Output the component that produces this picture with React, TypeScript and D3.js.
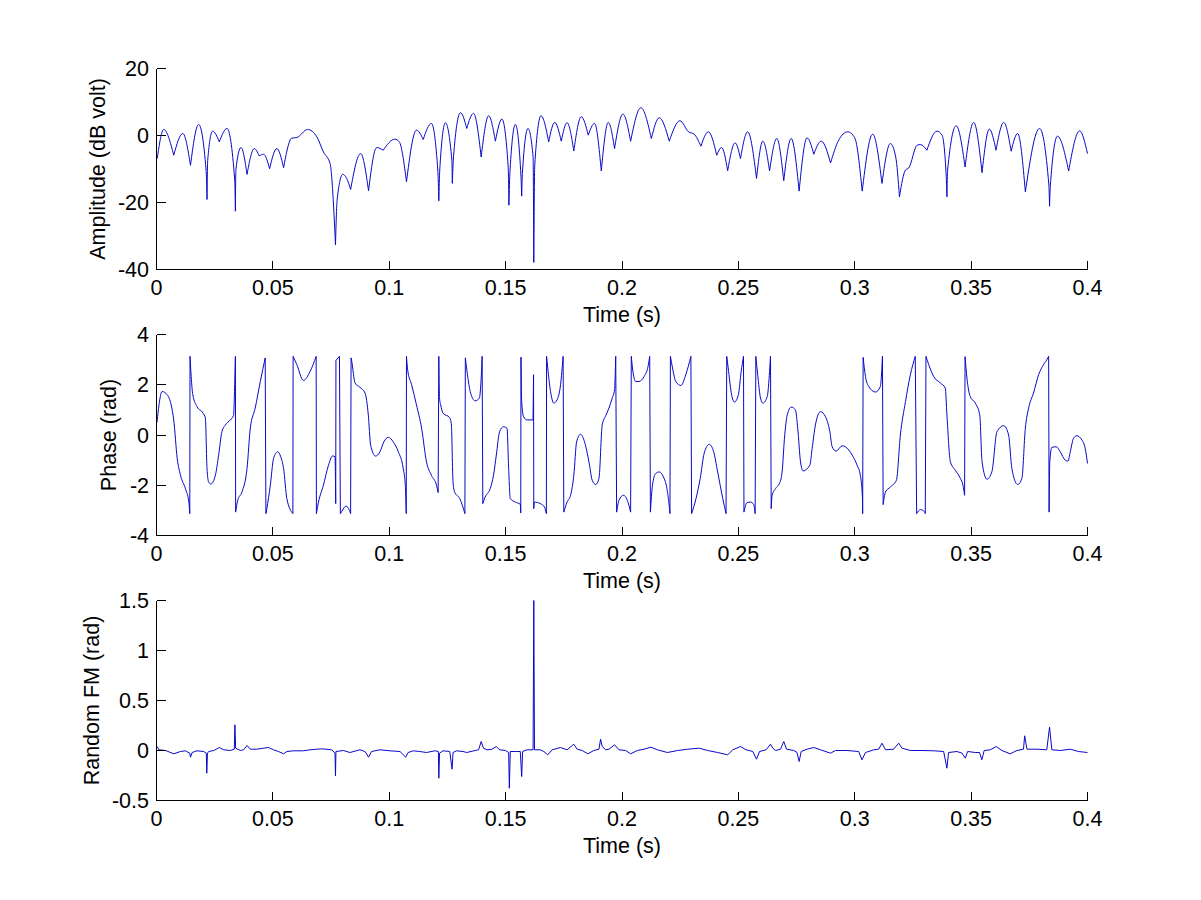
import React from "react";
import * as d3 from "d3";

type Pt = [number, number];

// ---------- ticks ----------
const timeTicks = [0, 0.05, 0.1, 0.15, 0.2, 0.25, 0.3, 0.35, 0.4];
const timeTickLabels = ["0", "0.05", "0.1", "0.15", "0.2", "0.25", "0.3", "0.35", "0.4"];
const ampTicks = [20, 0, -20, -40];
const ampTickLabels = ["20", "0", "-20", "-40"];
const phaseTicks = [4, 2, 0, -2, -4];
const phaseTickLabels = ["4", "2", "0", "-2", "-4"];
const fmTicks = [1.5, 1, 0.5, 0, -0.5];
const fmTickLabels = ["1.5", "1", "0.5", "0", "-0.5"];

// ---------- series (time s, value) ----------
const amplitudeDb: Pt[] = [
  [0.0003, -6.9], [0.0031, 1.8], [0.0074, -5.9], [0.0113, 0.6], [0.0146, -8.9], [0.0181, 3.3],
  [0.0213, -10.3], [0.0217, -19.1], [0.022, -7.4], [0.0241, 1.3], [0.027, -1.9], [0.0303, 2.1],
  [0.0336, -13.3], [0.0339, -22.6], [0.0341, -10.3], [0.0363, -3.6], [0.0389, -11.6], [0.042, -3.9],
  [0.0441, -6.1], [0.046, -5.6], [0.0486, -9.9], [0.0517, -3.9], [0.0546, -9.6], [0.0581, -0.8],
  [0.0603, -0.6], [0.0649, 1.8], [0.0689, -0.4], [0.0717, -4.9], [0.0746, -8.4], [0.0761, -21.3],
  [0.0769, -32.7], [0.0776, -19.3], [0.08, -11.6], [0.0817, -12.8], [0.0834, -16.1], [0.0877, -5.4],
  [0.0911, -16.5], [0.0946, -3.6], [0.0974, -4.4], [0.1024, -1.1], [0.1043, -1.9], [0.1074, -13.8],
  [0.1117, 1.6], [0.1146, -1.2], [0.1181, 3.6], [0.1209, -10.8], [0.1213, -19.5], [0.1217, -10.3],
  [0.1241, 3.8], [0.1269, -7.4], [0.1271, -14.3], [0.1276, -6.4], [0.1306, 6.8], [0.1333, 2.1],
  [0.1362, 6.6], [0.1395, -6.4], [0.1427, 5.9], [0.1456, -1.7], [0.1484, 4.9], [0.1511, -9.4],
  [0.1514, -20.8], [0.1519, -10.3], [0.1542, 3.3], [0.1566, -12.3], [0.1569, -18.1], [0.1572, -11.3],
  [0.1596, 2.1], [0.1618, -6.4], [0.1621, -37.9], [0.1625, -9], [0.1652, 5.9], [0.1685, -1.9],
  [0.1711, 3.9], [0.1739, -1.7], [0.1764, 3.8], [0.1793, -4.6], [0.1825, 5.6], [0.1855, 0.1],
  [0.1882, 3.6], [0.1911, -10.6], [0.1941, 3.9], [0.1968, -3.9], [0.2004, 6.4], [0.2037, -1.7],
  [0.2081, 8.3], [0.2126, -0.9], [0.216, 5.3], [0.2203, -1.7], [0.2249, 4.4], [0.2286, 1.1],
  [0.231, 0.4], [0.2339, -3.2], [0.2371, 1.1], [0.2407, -5.9], [0.2428, -3.6], [0.2454, -10.5],
  [0.2486, -2.2], [0.2509, -6.9], [0.254, 1.1], [0.2578, -12.8], [0.2605, -1.7], [0.2634, -10.6],
  [0.2665, -0.9], [0.2695, -13.5], [0.2727, -0.9], [0.2761, -16.6], [0.2795, -0.7], [0.2824, -5.6],
  [0.2856, -1.7], [0.2896, -8.2], [0.2931, -1.4], [0.297, 1.1], [0.3, -0.7], [0.3032, -16.6],
  [0.3077, 0.4], [0.3117, -14.3], [0.3153, -2.4], [0.3176, -6.4], [0.3192, -18.3], [0.3218, -10.3],
  [0.3232, -9.7], [0.3268, -2.9], [0.3282, -2.7], [0.331, -4.4], [0.3353, 1.3], [0.3375, 0.1],
  [0.3393, -12.3], [0.3396, -18.3], [0.3399, -10.3], [0.3436, 2.9], [0.3474, -9.4], [0.3511, 3.9],
  [0.3547, -11.1], [0.3578, 1.9], [0.3607, -4.4], [0.364, 3.9], [0.3672, -4.7], [0.37, 0.6],
  [0.3733, -16.8], [0.3794, 2.1], [0.3834, -14.8], [0.3837, -21.1], [0.384, -15.3], [0.3871, -0.2],
  [0.3919, -10.6], [0.3966, 1.4], [0.4, -5.4],
];

const phaseRad: Pt[] = [
  [0.0002, 0.5], [0.0024, 1.73], [0.0046, 1.6], [0.0063, 1.2], [0.0074, 0.6], [0.0089, -0.93],
  [0.0103, -1.6], [0.0124, -2.13], [0.0139, -2.67], [0.0143, -3.13], [0.0144, 3.13], [0.0149, 2.33],
  [0.0156, 1.6], [0.0174, 1.13], [0.02, 0.87], [0.021, 0.67], [0.0217, -1.33], [0.0224, -1.87],
  [0.0234, -1.95], [0.0253, -1.6], [0.0267, -0.8], [0.0281, 0.13], [0.0296, 0.4], [0.0317, 0.6],
  [0.0331, 0.77], [0.0337, 2.4], [0.0339, 3.13], [0.034, -3.07], [0.0349, -2.6], [0.0367, -2.27],
  [0.0389, -1.33], [0.0403, 0.27], [0.0424, 1.07], [0.0446, 2.13], [0.0467, 3.07], [0.047, -3.13],
  [0.0474, -2.93], [0.0489, -2.0], [0.0503, -0.93], [0.052, -0.67], [0.0534, -0.87], [0.0546, -1.33],
  [0.056, -2.53], [0.0586, -3.13], [0.0587, 3.13], [0.0603, 2.8], [0.0631, 2.17], [0.066, 2.53],
  [0.0686, 3.13], [0.0687, -3.13], [0.0696, -2.67], [0.0717, -2.0], [0.0739, -1.2], [0.0757, -0.83],
  [0.0767, -0.87], [0.077, -2.73], [0.0771, 2.97], [0.0786, 3.13], [0.079, -3.13], [0.0796, -3.04],
  [0.0814, -2.83], [0.0829, -3.0], [0.0834, -3.13], [0.0836, 3.07], [0.0839, 2.93], [0.0853, 2.07],
  [0.0874, 1.9], [0.0896, 1.67], [0.091, 0.8], [0.092, -0.4], [0.0941, -0.84], [0.096, -0.67],
  [0.0977, -0.27], [0.0996, -0.09], [0.1017, -0.27], [0.1039, -0.67], [0.106, -1.33], [0.1069, -2.0],
  [0.1073, -3.13], [0.1074, 3.13], [0.1079, 2.6], [0.1096, 2.0], [0.1117, 1.2], [0.1139, 0.27],
  [0.116, -1.07], [0.1181, -1.6], [0.1203, -2.0], [0.121, -2.29], [0.1213, 3.13], [0.1216, 1.47],
  [0.1221, 1.2], [0.1231, 0.87], [0.126, 0.69], [0.1267, 0.4], [0.1274, -1.87], [0.1281, -2.27],
  [0.1303, -2.53], [0.1325, -3.13], [0.1327, 3.07], [0.1336, 2.4], [0.1348, 1.73], [0.1369, 1.36],
  [0.1387, 1.47], [0.1395, 2.27], [0.1399, 3.13], [0.1402, -2.73], [0.1412, -2.47], [0.1434, -2.13],
  [0.1448, -1.6], [0.146, -0.8], [0.1474, 0.13], [0.1491, 0.33], [0.1506, 0.27], [0.1513, -1.33],
  [0.152, -2.53], [0.1542, -2.67], [0.1563, -2.76], [0.1565, -3.1], [0.1566, 3.1], [0.1569, 1.33],
  [0.1577, 0.73], [0.1592, 0.6], [0.1617, 0.6], [0.162, 2.4], [0.1621, -2.93], [0.1624, -2.67],
  [0.1649, -2.73], [0.1667, -2.87], [0.1675, -3.13], [0.1676, 3.13], [0.1681, 2.67], [0.1693, 1.73],
  [0.1707, 1.27], [0.1721, 1.4], [0.1736, 2.0], [0.1747, 3.13], [0.175, -3.07], [0.1764, -2.67],
  [0.1779, -2.4], [0.1793, -1.6], [0.1805, -0.27], [0.1822, 0.03], [0.1839, -0.27], [0.1858, -1.07],
  [0.1872, -1.8], [0.1887, -1.97], [0.1901, -1.73], [0.1915, 0.4], [0.193, 0.77], [0.1944, 1.07],
  [0.1958, 1.47], [0.1968, 1.8], [0.1973, 3.13], [0.1977, -3.07], [0.1987, -2.6], [0.2006, -2.4],
  [0.2023, -2.6], [0.2037, -3.07], [0.204, 3.13], [0.2045, 2.67], [0.2059, 2.13], [0.2073, 2.13],
  [0.2095, 2.33], [0.2112, 2.73], [0.2119, 3.13], [0.2122, -3.07], [0.2131, -2.0], [0.2145, -1.53],
  [0.216, -1.47], [0.2178, -1.67], [0.2193, -2.13], [0.2204, -2.93], [0.2206, -3.13], [0.2208, 3.13],
  [0.2217, 2.67], [0.2231, 2.13], [0.2253, 1.97], [0.2274, 2.4], [0.2296, 3.13], [0.2299, -3.13],
  [0.2318, -2.53], [0.2336, -1.73], [0.2353, -0.73], [0.2375, -0.37], [0.2394, -0.67], [0.2411, -1.47],
  [0.2433, -2.53], [0.2447, -3.13], [0.245, 3.13], [0.2458, 2.53], [0.2471, 1.6], [0.2483, 1.31],
  [0.25, 1.6], [0.2512, 2.53], [0.2522, 3.13], [0.2524, -3.07], [0.2537, -2.69], [0.2552, -2.67],
  [0.2566, -2.77], [0.2572, -3.13], [0.2575, 3.13], [0.2583, 2.4], [0.2595, 1.47], [0.2605, 1.27],
  [0.2624, 1.53], [0.2634, 2.53], [0.2638, 3.13], [0.2641, -2.93], [0.2645, -2.4], [0.266, -2.13],
  [0.2678, -1.89], [0.2688, -1.47], [0.2698, -0.13], [0.271, 0.8], [0.2727, 1.11], [0.2745, 1.0],
  [0.2755, 0.27], [0.2767, -1.07], [0.2778, -1.43], [0.2807, -1.2], [0.2817, -0.53], [0.2831, 0.4],
  [0.2853, 0.93], [0.2874, 0.73], [0.2893, 0.13], [0.2903, -0.47], [0.292, -0.64], [0.2946, -0.43],
  [0.296, -0.47], [0.2989, -0.8], [0.301, -1.2], [0.3024, -1.6], [0.3033, -2.47], [0.3034, -3.13],
  [0.3036, 3.09], [0.3046, 2.33], [0.306, 1.93], [0.3089, 1.71], [0.311, 1.93], [0.3119, 3.13],
  [0.3122, -2.77], [0.3132, -2.27], [0.3153, -2.07], [0.3179, -1.8], [0.3196, 0.0], [0.3218, 1.33],
  [0.3239, 2.4], [0.326, 3.13], [0.3266, -3.13], [0.3282, -2.97], [0.3299, -3.04], [0.3303, -3.13],
  [0.3306, 3.13], [0.3318, 2.8], [0.3339, 2.33], [0.3368, 2.07], [0.3389, 1.87], [0.3396, 0.8],
  [0.3411, -1.07], [0.3432, -1.4], [0.3454, -1.73], [0.3465, -2.0], [0.3472, -2.4], [0.3474, 3.12],
  [0.3482, 2.27], [0.3496, 1.53], [0.3518, 1.27], [0.3537, 0.8], [0.3547, -1.07], [0.3568, -1.76],
  [0.3589, -1.47], [0.3611, 0.13], [0.364, 0.37], [0.3661, 0.0], [0.3675, -1.33], [0.37, -1.97],
  [0.3718, -1.73], [0.3733, 0.27], [0.3747, 1.07], [0.3768, 1.67], [0.379, 2.4], [0.3811, 2.8],
  [0.383, 3.07], [0.3833, 3.13], [0.3835, -3.07], [0.3838, -1.07], [0.3847, -0.49], [0.3866, -0.47],
  [0.3883, -0.67], [0.3904, -1.0], [0.3916, -1.04], [0.3926, -0.67], [0.394, -0.13], [0.3954, -0.03],
  [0.3976, -0.2], [0.399, -0.53], [0.4, -1.13],
];

const randomFm: Pt[] = [
  [0.0003, 0.04], [0.001, 0.007], [0.0039, 0], [0.0074, -0.033], [0.0103, -0.01], [0.0124, -0.003],
  [0.0143, -0.027], [0.0146, -0.067], [0.0153, -0.02], [0.0174, -0.003], [0.0203, -0.01], [0.0214, -0.027],
  [0.0216, -0.227], [0.0219, -0.027], [0.0224, -0.01], [0.0246, 0], [0.027, 0.03], [0.0289, 0.007],
  [0.0317, 0], [0.0334, 0.013], [0.0337, 0.257], [0.034, 0.023], [0.036, 0], [0.0374, 0.007],
  [0.0389, 0.05], [0.0403, 0.013], [0.0431, 0.013], [0.046, 0.023], [0.0481, 0.03], [0.0503, 0.007],
  [0.0524, -0.01], [0.0546, -0.033], [0.056, -0.01], [0.0589, -0.003], [0.0631, -0.003], [0.066, 0.007],
  [0.071, 0.017], [0.0753, 0.007], [0.0767, -0.027], [0.0769, -0.253], [0.0771, -0.01], [0.0803, 0],
  [0.0831, -0.02], [0.0874, 0.007], [0.0896, -0.01], [0.0911, -0.067], [0.0924, -0.01], [0.096, 0.007],
  [0.1003, -0.003], [0.1046, -0.01], [0.1071, -0.067], [0.1081, -0.02], [0.1103, -0.003], [0.1131, -0.01],
  [0.116, -0.02], [0.1196, -0.003], [0.1211, -0.01], [0.1213, -0.277], [0.1216, -0.027], [0.1231, -0.003],
  [0.126, -0.01], [0.127, -0.187], [0.1274, -0.02], [0.1289, -0.003], [0.1317, -0.01], [0.1333, -0.02],
  [0.1369, 0], [0.1384, 0.007], [0.1395, 0.09], [0.1405, 0.023], [0.142, 0.007], [0.1441, 0.013],
  [0.146, 0.04], [0.1474, 0.007], [0.1499, 0], [0.1513, -0.02], [0.1516, -0.377], [0.152, -0.01],
  [0.1542, -0.01], [0.1563, -0.01], [0.1569, -0.26], [0.1573, -0.01], [0.1592, 0.007], [0.1618, 0.007],
  [0.1621, 1.5], [0.1624, 0.007], [0.1649, 0.007], [0.1664, -0.01], [0.1681, -0.043], [0.17, 0.007],
  [0.1736, 0.03], [0.1764, 0.007], [0.1793, 0.063], [0.1807, 0.013], [0.1829, 0], [0.1853, -0.033],
  [0.1879, 0], [0.1901, 0.013], [0.1908, 0.113], [0.1915, 0.04], [0.193, 0.007], [0.1944, 0.013],
  [0.1968, 0.057], [0.1987, 0.007], [0.2016, 0], [0.2037, -0.033], [0.2066, 0], [0.2095, 0.013],
  [0.2124, 0.033], [0.2152, 0.007], [0.2195, -0.02], [0.2239, 0], [0.2282, 0.013], [0.2332, 0.023],
  [0.2368, 0], [0.2411, -0.02], [0.2454, -0.043], [0.2476, 0.007], [0.2509, 0.04], [0.2533, 0.007],
  [0.2562, -0.01], [0.2578, -0.087], [0.2591, -0.01], [0.2619, 0.007], [0.2638, 0.063], [0.2648, 0.023],
  [0.266, 0], [0.2681, 0.013], [0.2695, 0.09], [0.2707, 0.013], [0.2738, 0], [0.2752, -0.02],
  [0.2761, -0.11], [0.277, -0.01], [0.2795, 0.013], [0.2824, 0.03], [0.2853, 0.007], [0.2896, -0.027],
  [0.2917, 0], [0.2967, 0], [0.3017, -0.01], [0.3031, -0.093], [0.3046, -0.02], [0.3082, 0.007],
  [0.3103, 0.013], [0.3117, 0.073], [0.3132, 0.007], [0.3167, 0.013], [0.3189, 0.073], [0.3203, 0.023],
  [0.3239, 0], [0.3289, 0], [0.3339, -0.003], [0.3382, -0.01], [0.3396, -0.177], [0.3403, -0.02],
  [0.3439, -0.01], [0.3461, -0.027], [0.3475, -0.077], [0.3485, -0.01], [0.3518, -0.02], [0.3536, -0.02],
  [0.3546, -0.093], [0.3556, 0], [0.3582, 0.007], [0.3608, 0.04], [0.3632, 0], [0.3668, -0.033],
  [0.3697, 0], [0.3725, 0.013], [0.373, 0.147], [0.374, 0.013], [0.3783, 0.013], [0.3825, 0.007],
  [0.3837, 0.233], [0.3847, 0.007], [0.3883, 0], [0.3926, 0.013], [0.3961, -0.01], [0.4, -0.02],
];

// ---------- layout ----------
const W = 1201;
const H = 900;
const LEFT = 156.5;
const RIGHT = 1087.5;
const FONT = "'Liberation Sans', Arial, Helvetica, sans-serif";
const FS = 21.5;
const TICK = 9;
const LINE = "#0808c8";

function splitAtMinima(data: Pt[]): Pt[][] {
  const cuts = [0];
  for (let i = 1; i < data.length - 1; i++) {
    if (data[i][1] < data[i - 1][1] && data[i][1] < data[i + 1][1]) cuts.push(i);
  }
  cuts.push(data.length - 1);
  const segs: Pt[][] = [];
  for (let k = 1; k < cuts.length; k++) segs.push(data.slice(cuts[k - 1], cuts[k] + 1));
  return segs;
}

function splitAtWraps(data: Pt[]): { segs: Pt[][]; joins: Pt[][] } {
  const segs: Pt[][] = [];
  const joins: Pt[][] = [];
  let start = 0;
  for (let i = 1; i < data.length; i++) {
    if (Math.abs(data[i][1] - data[i - 1][1]) > Math.PI) {
      segs.push(data.slice(start, i));
      joins.push([data[i - 1], data[i]]);
      start = i;
    }
  }
  segs.push(data.slice(start));
  return { segs, joins };
}

type PanelProps = {
  top: number;
  bottom: number;
  domain: [number, number];
  ticks: number[];
  tickLabels: string[];
  ylabel: string;
  ylabelX: number;
  render: (x: d3.ScaleLinear<number, number>, y: d3.ScaleLinear<number, number>) => React.ReactNode;
};

function Panel({ top, bottom, domain, ticks, tickLabels, ylabel, ylabelX, render }: PanelProps) {
  const x = d3.scaleLinear().domain([0, 0.4]).range([LEFT, RIGHT]);
  const y = d3.scaleLinear().domain(domain).range([bottom, top]);
  const midY = (top + bottom) / 2;
  return (
    <g>
      <g>{render(x, y)}</g>
      <line x1={LEFT} x2={LEFT} y1={top} y2={bottom} stroke="#000" strokeWidth={1} shapeRendering="crispEdges" />
      <line x1={LEFT} x2={RIGHT} y1={bottom} y2={bottom} stroke="#000" strokeWidth={1} shapeRendering="crispEdges" />
      {ticks.map((t, i) => (
        <g key={"y" + i}>
          <line x1={LEFT} x2={LEFT + TICK} y1={y(t)} y2={y(t)} stroke="#000" shapeRendering="crispEdges" />
          <text x={149} y={y(t)} dy="0.35em" textAnchor="end" fontFamily={FONT} fontSize={FS} fill="#000">
            {tickLabels[i]}
          </text>
        </g>
      ))}
      {timeTicks.map((t, i) => (
        <g key={"x" + i}>
          <line x1={x(t)} x2={x(t)} y1={bottom} y2={bottom - TICK} stroke="#000" shapeRendering="crispEdges" />
          <text x={x(t)} y={bottom + 25} textAnchor="middle" fontFamily={FONT} fontSize={FS} fill="#000">
            {timeTickLabels[i]}
          </text>
        </g>
      ))}
      <text x={(LEFT + RIGHT) / 2} y={bottom + 52} textAnchor="middle" fontFamily={FONT} fontSize={FS} fill="#000">
        Time (s)
      </text>
      <text
        transform={`translate(${ylabelX},${midY}) rotate(-90)`}
        textAnchor="middle"
        fontFamily={FONT}
        fontSize={FS}
        fill="#000"
      >
        {ylabel}
      </text>
    </g>
  );
}

export default function App() {
  const mono = (x: d3.ScaleLinear<number, number>, y: d3.ScaleLinear<number, number>) =>
    d3.line<Pt>().x((d) => x(d[0])).y((d) => y(d[1])).curve(d3.curveMonotoneX);
  const lin = (x: d3.ScaleLinear<number, number>, y: d3.ScaleLinear<number, number>) =>
    d3.line<Pt>().x((d) => x(d[0])).y((d) => y(d[1]));

  const arches = splitAtMinima(amplitudeDb);
  const phaseParts = splitAtWraps(phaseRad);

  return (
    <svg width={W} height={H} style={{ display: "block", margin: "-8px", background: "#fff" }}>
      <rect x={0} y={0} width={W} height={H} fill="#fff" />
      <Panel
        top={68.5}
        bottom={269.5}
        domain={[-40, 20]}
        ticks={ampTicks}
        tickLabels={ampTickLabels}
        ylabel="Amplitude (dB volt)"
        ylabelX={104.5}
        render={(x, y) => {
          const l = mono(x, y);
          return arches.map((s, i) => (
            <path key={i} d={l(s) || ""} fill="none" stroke={LINE} strokeWidth={1} />
          ));
        }}
      />
      <Panel
        top={334.5}
        bottom={535.5}
        domain={[-4, 4]}
        ticks={phaseTicks}
        tickLabels={phaseTickLabels}
        ylabel="Phase (rad)"
        ylabelX={116}
        render={(x, y) => {
          const l = mono(x, y);
          const ll = lin(x, y);
          return (
            <>
              {phaseParts.segs.map((s, i) => (
                <path key={"s" + i} d={l(s) || ""} fill="none" stroke={LINE} strokeWidth={1} />
              ))}
              {phaseParts.joins.map((s, i) => (
                <path key={"j" + i} d={ll(s) || ""} fill="none" stroke={LINE} strokeWidth={1} />
              ))}
            </>
          );
        }}
      />
      <Panel
        top={600.5}
        bottom={800.5}
        domain={[-0.5, 1.5]}
        ticks={fmTicks}
        tickLabels={fmTickLabels}
        ylabel="Random FM (rad)"
        ylabelX={98.5}
        render={(x, y) => (
          <path d={lin(x, y)(randomFm) || ""} fill="none" stroke={LINE} strokeWidth={1} />
        )}
      />
    </svg>
  );
}
